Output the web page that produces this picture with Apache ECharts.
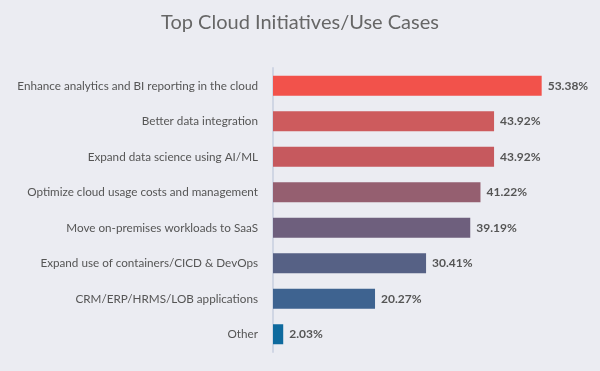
<!DOCTYPE html>
<html>
<head>
<meta charset="utf-8">
<script src="https://cdn.jsdelivr.net/npm/echarts@6/dist/echarts.min.js"></script>
<style>
html,body{margin:0;padding:0;background:#ebecf2;}
#c{width:600px;height:371px;}
</style>
</head>
<body>
<div id="c"></div>
<script>
var categories = [
  "Enhance analytics and BI reporting in the cloud",
  "Better data integration",
  "Expand data science using AI/ML",
  "Optimize cloud usage costs and management",
  "Move on-premises workloads to SaaS",
  "Expand use of containers/CICD & DevOps",
  "CRM/ERP/HRMS/LOB applications",
  "Other"
];
var values = [53.38, 43.92, 43.92, 41.22, 39.19, 30.41, 20.27, 2.03];
var barColors = ["#f2524b", "#cd5b5d", "#c6595e", "#955f70", "#6e5f7d", "#566185", "#3e6390", "#0e6a9e"];
var titleText = "Top Cloud Initiatives/Use Cases";

var chart = echarts.init(document.getElementById('c'), null, {renderer: 'canvas'});
chart.setOption({
  backgroundColor: '#ebecf2',
  animation: false,
  title: {
    text: titleText,
    left: 'center',
    top: 8,
    textStyle: {fontFamily: 'Lato', fontWeight: 400, fontSize: 20, color: '#666666'}
  },
  grid: {left: 273, right: 25, top: 68, bottom: 19, containLabel: false},
  xAxis: {
    type: 'value', min: 0, max: 60, show: false
  },
  yAxis: {
    type: 'category',
    inverse: true,
    data: categories,
    axisLine: {show: true, lineStyle: {color: '#d0d6e4', width: 2}},
    axisTick: {show: false},
    axisLabel: {margin: 15, fontFamily: 'Lato', fontSize: 11.7, color: '#555555'}
  },
  series: [{
    type: 'bar',
    data: values.map(function (v, i) {
      return {value: v, itemStyle: {color: barColors[i]}};
    }),
    barWidth: 20,
    label: {
      show: true,
      position: 'right',
      distance: 6,
      formatter: function (p) { return p.value.toFixed(2) + '%'; },
      fontFamily: 'Lato', fontWeight: 'bold', fontSize: 12, color: '#555555'
    }
  }]
});
</script>
</body>
</html>
